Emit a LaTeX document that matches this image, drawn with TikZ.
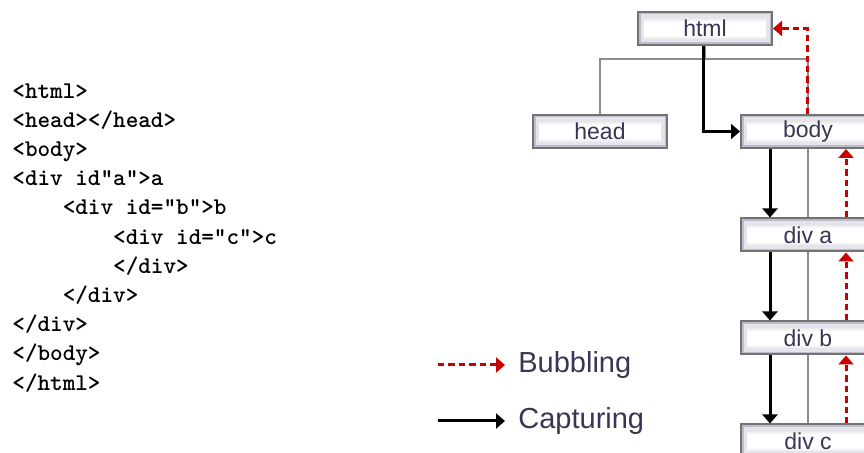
\documentclass[tikz,border=0pt]{standalone}
\usepackage{fontspec}
\setsansfont{Liberation Sans}
\usetikzlibrary{arrows.meta}

\definecolor{bubred}{RGB}{200,0,0}
\definecolor{boxtext}{RGB}{55,55,85}
\definecolor{boxedge}{RGB}{168,166,184}
\pgfdeclareverticalshading{boxshade}{100bp}{color(0bp)=(boxedge); color(25bp)=(boxedge!70);
  color(40bp)=(white); color(60bp)=(white); color(75bp)=(boxedge!70); color(100bp)=(boxedge)}

\tikzset{
  elbox/.style={draw=black!55, line width=1pt, shading=boxshade,
    path picture={
      \draw[boxedge!30, line width=6pt] (path picture bounding box.south west)
        rectangle (path picture bounding box.north east);
      \draw[boxedge!75, line width=2.5pt] (path picture bounding box.south west)
        rectangle (path picture bounding box.north east);},
    minimum width=67pt, minimum height=16.5pt, inner sep=0pt,
    text=boxtext, font=\sffamily\fontsize{11.5pt}{13pt}\selectfont},
  tree/.style={draw=black!45, line width=0.8pt},
  capture/.style={line width=1.5pt, -{Triangle[length=4.5pt,width=7.5pt]}},
  bubble/.style={bubred, line width=1.5pt, dash pattern=on 3.2pt off 2pt,
    -{Triangle[length=4.5pt,width=7.5pt]}},
  legtext/.style={text=boxtext, inner xsep=6.5pt, inner ysep=0pt, anchor=west,
    font=\sffamily\fontsize{14.5pt}{16pt}\selectfont}
}

\begin{document}
\begin{tikzpicture}[x=0.5pt, y=-0.5pt]
		\clip (0,0) rectangle (864,453);
		
		% source listing
		\node[anchor=north west, inner sep=0pt, align=left,
		  font=\ttfamily\bfseries\fontsize{12pt}{14.6pt}\selectfont] (code) at (12,83)
		  {<html>\\
		   <head></head>\\
		   <body>\\
		   <div id"a">a\\
		   \hspace*{2.1em}<div id="b">b\\
		   \hspace*{4.2em}<div id="c">c\\
		   \hspace*{4.2em}</div>\\
		   \hspace*{2.1em}</div>\\
		   </div>\\
		   </body>\\
		   </html>};
		
		% tree of elements
		\node[elbox] (html) at (705,28.5) {html};
		\node[elbox] (head) at (600,131.5) {head};
		\node[elbox] (body) at (808,131.5) {body};
		\node[elbox] (diva) at (808,235) {div a};
		\node[elbox] (divb) at (808,338) {div b};
		\node[elbox] (divc) at (808,441) {div c};
		
		\coordinate (fork) at (705,59);
		\draw[tree] (html.south) -- (fork);
		\draw[tree] (head.north) -- (head.north |- fork) -- (body.north |- fork) -- (body.north);
		\draw[tree] (body.south) -- (diva.north);
		\draw[tree] (diva.south) -- (divb.north);
		\draw[tree] (divb.south) -- (divc.north);
		
		% capturing
		\draw[capture] ([xshift=-1pt]html.south) |- (body.west);
		\draw[capture] ([xshift=-19pt]body.south) -- ([xshift=-19pt]diva.north);
		\draw[capture] ([xshift=-19pt]diva.south) -- ([xshift=-19pt]divb.north);
		\draw[capture] ([xshift=-19pt]divb.south) -- ([xshift=-19pt]divc.north);
		
		% bubbling
		\draw[bubble] ([xshift=19pt]divc.north) -- ([xshift=19pt]divb.south);
		\draw[bubble] ([xshift=19pt]divb.north) -- ([xshift=19pt]diva.south);
		\draw[bubble] ([xshift=19pt]diva.north) -- ([xshift=19pt]body.south);
		\draw[bubble] ([xshift=-0.5pt]body.north) |- (html.east);
		
		% legend
		\node[legtext] (bubtxt) at (505,365) {Bubbling};
		\node[legtext] (captxt) at (505,421) {Capturing};
		\coordinate (bubstart) at (438,365);
		\coordinate (capstart) at (438,421);
		\draw[bubble] (bubstart) -- (bubtxt.west);
		\draw[capture] (capstart) -- (captxt.west);
		
	\end{tikzpicture}
\end{document}
